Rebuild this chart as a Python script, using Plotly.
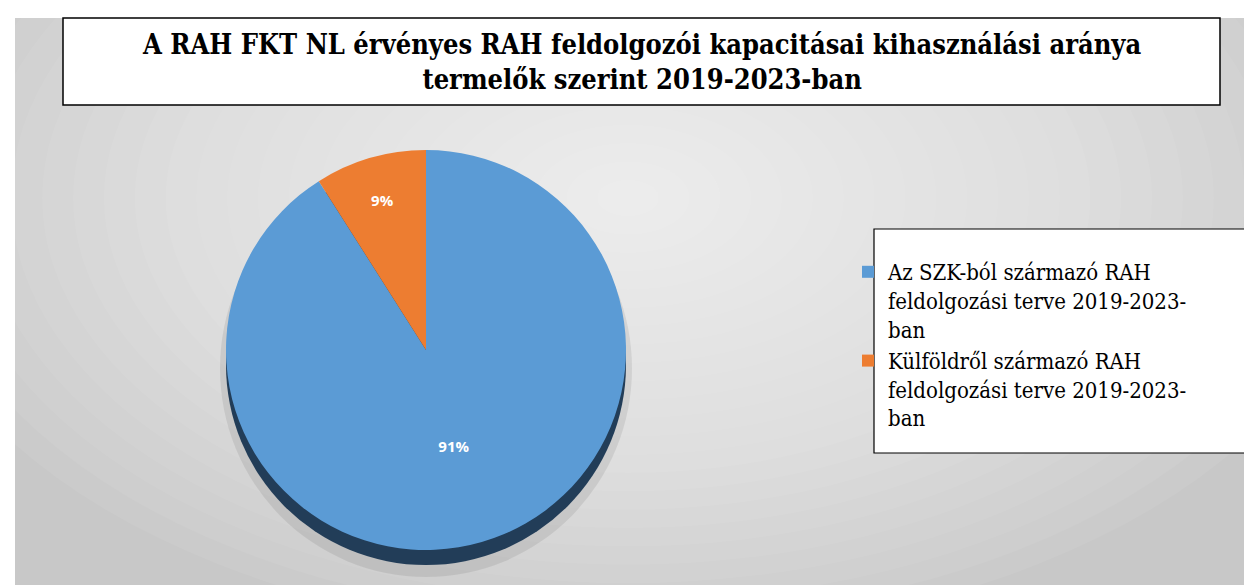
import plotly.graph_objects as go

# ---- data ----
categories = [
    "Az SZK-ból származó RAH<br>feldolgozási terve 2019-2023-<br>ban",
    "Külföldről származó RAH<br>feldolgozási terve 2019-2023-<br>ban",
]
shares = [91, 9]
slice_colors = ["#5B9BD5", "#ED7D31"]
title_text = ("A RAH FKT NL érvényes RAH feldolgozói kapacitásai kihasználási aránya"
              "<br>termelők szerint 2019-2023-ban")

SERIF = "DejaVu Serif Condensed, DejaVu Serif"

W, H = 1252, 585


def px(x):
    return x / W


def py(y):
    return 1 - y / H


# pie geometry (pixels)
cx, cy, r = 418, 342, 200
depth = 15

fig = go.Figure()
fig.add_trace(go.Pie(
    labels=categories,
    values=shares,
    sort=False,
    direction="clockwise",
    rotation=0,
    marker=dict(colors=slice_colors, line=dict(width=0)),
    texttemplate="<b>%{percent:.0%}</b>",
    textposition="inside",
    insidetextorientation="horizontal",
    insidetextfont=dict(color="white", size=15, family="Open Sans"),
    domain=dict(x=[px(cx - r), px(cx + r)], y=[py(cy + r), py(cy - r)]),
    hoverinfo="label+percent",
))

shapes = []
shapes.append(dict(type="rect", xref="paper", yref="paper",
                   x0=px(7), x1=1, y0=0, y1=py(10),
                   fillcolor="#c8c8c8", line=dict(width=0), layer="below"))
N = 24
gx, gy, grx, gry = 620, 190, 740, 440
for k in range(N, 0, -1):
    f = k / N
    shapes.append(dict(type="circle", xref="paper", yref="paper",
                       x0=px(gx - grx * f), x1=px(gx + grx * f),
                       y0=py(gy + gry * f), y1=py(gy - gry * f),
                       fillcolor="rgba(255,255,255,0.058)", line=dict(width=0),
                       layer="below"))
shapes.append(dict(type="rect", xref="paper", yref="paper",
                   x0=0, x1=px(7), y0=0, y1=1,
                   fillcolor="white", line=dict(width=0), layer="below"))
shapes.append(dict(type="rect", xref="paper", yref="paper",
                   x0=0, x1=1, y0=py(10), y1=1,
                   fillcolor="white", line=dict(width=0), layer="below"))
shapes.append(dict(type="circle", xref="paper", yref="paper",
                   x0=px(cx - r - 6), x1=px(cx + r + 6),
                   y0=py(cy + r + depth + 12), y1=py(cy - r + 10),
                   fillcolor="rgba(0,0,0,0.08)", line=dict(width=0), layer="below"))
shapes.append(dict(type="circle", xref="paper", yref="paper",
                   x0=px(cx - r), x1=px(cx + r),
                   y0=py(cy + r + depth), y1=py(cy - r + depth),
                   fillcolor="#223d58", line=dict(width=0), layer="below"))
shapes.append(dict(type="rect", xref="paper", yref="paper",
                   x0=px(55), x1=px(1212), y0=py(97), y1=py(10),
                   fillcolor="white", line=dict(color="black", width=1.5),
                   layer="below"))
shapes.append(dict(type="rect", xref="paper", yref="paper",
                   x0=px(866), x1=px(1250), y0=py(445), y1=py(221),
                   fillcolor="white", line=dict(color="black", width=1.2),
                   layer="below"))

fig.update_layout(
    width=W, height=H,
    margin=dict(l=0, r=0, t=0, b=0),
    paper_bgcolor="white",
    plot_bgcolor="white",
    shapes=shapes,
    showlegend=True,
    legend=dict(
        x=px(840), y=py(243), xanchor="left", yanchor="top",
        bgcolor="rgba(0,0,0,0)", borderwidth=0,
        font=dict(family=SERIF, size=22, color="black"),
        valign="top", tracegroupgap=0, itemsizing="constant",
    ),
    annotations=[dict(
        text="<b>" + title_text + "</b>",
        xref="paper", yref="paper",
        x=px(633), y=py(54), xanchor="center", yanchor="middle",
        showarrow=False,
        font=dict(family=SERIF, size=27, color="black"),
    )],
)

fig.write_html("out.html")
